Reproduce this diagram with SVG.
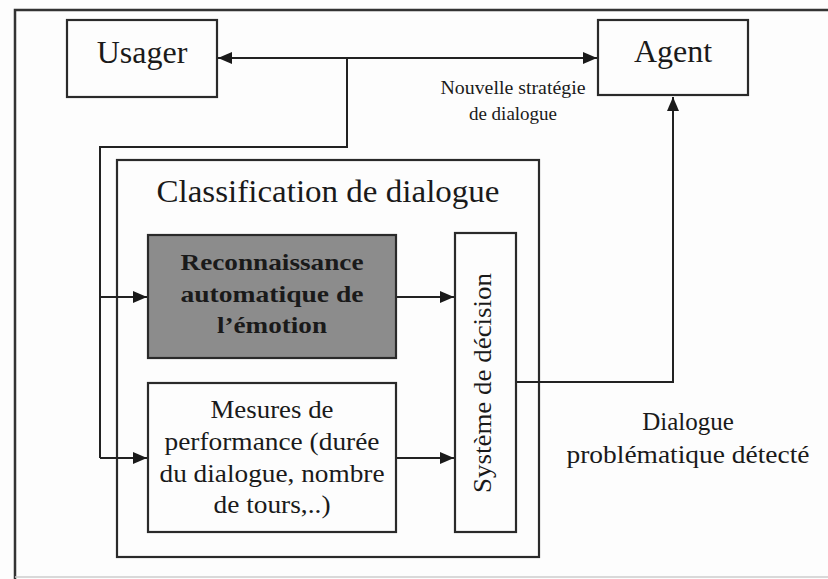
<svg xmlns="http://www.w3.org/2000/svg" width="828" height="579" viewBox="0 0 828 579">
  <defs>
    <style>
      .box { fill: #fdfdfd; stroke: #2a2a2a; stroke-width: 2.2; }
      .grey { fill: #8c8c8c; stroke: #2a2a2a; stroke-width: 2.2; }
      .wire { fill: none; stroke: #222; stroke-width: 2; }
      text { font-family: "Liberation Serif", "Times New Roman", serif; fill: #1a1a1a; text-anchor: middle; }
      .big { font-size: 32px; }
      .mid { font-size: 25px; }
      .bold { font-size: 24px; font-weight: bold; }
      .small { font-size: 19px; }
    </style>
    <marker id="arr" viewBox="0 0 14 12" refX="14" refY="6" markerWidth="14" markerHeight="12" markerUnits="userSpaceOnUse" orient="auto-start-reverse">
      <path d="M0,0 L14,6 L0,12 Z" fill="#1a1a1a"/>
    </marker>
  </defs>

  <rect width="828" height="579" fill="#fdfdfd"/>

  <!-- page frame -->
  <g id="frame">
    <path d="M15,579 L15,10 L828,10" fill="none" stroke="#333" stroke-width="2.5"/>
    <path d="M15,577 L828,577" fill="none" stroke="#ccc" stroke-width="1.5"/>
  </g>

  <g id="usager">
    <rect class="box" x="67" y="20" width="150" height="77"/>
    <text class="big" x="142" y="63">Usager</text>
  </g>

  <g id="agent">
    <rect class="box" x="598" y="20" width="150" height="75"/>
    <text class="big" x="673" y="62">Agent</text>
  </g>

  <g id="strategy-label">
    <text class="small" x="513" y="94" textLength="145" lengthAdjust="spacingAndGlyphs">Nouvelle stratégie</text>
    <text class="small" x="513" y="120">de dialogue</text>
  </g>

  <g id="classification">
    <rect class="box" x="117" y="160" width="422" height="397"/>
    <text class="big" x="328" y="202" textLength="343" lengthAdjust="spacingAndGlyphs">Classification de dialogue</text>
  </g>

  <g id="emotion">
    <rect class="grey" x="148" y="235" width="248" height="123"/>
    <text class="bold" x="272" y="270" textLength="183" lengthAdjust="spacingAndGlyphs">Reconnaissance</text>
    <text class="bold" x="272" y="302" textLength="183" lengthAdjust="spacingAndGlyphs">automatique de</text>
    <text class="bold" x="272" y="333" textLength="110" lengthAdjust="spacingAndGlyphs">l’émotion</text>
  </g>

  <g id="performance">
    <rect class="box" x="148" y="383" width="248" height="149"/>
    <text class="mid" x="272" y="418" textLength="123" lengthAdjust="spacingAndGlyphs">Mesures de</text>
    <text class="mid" x="272" y="450" textLength="215" lengthAdjust="spacingAndGlyphs">performance (durée</text>
    <text class="mid" x="272" y="482" textLength="225" lengthAdjust="spacingAndGlyphs">du dialogue, nombre</text>
    <text class="mid" x="272" y="513" textLength="117" lengthAdjust="spacingAndGlyphs">de tours,..)</text>
  </g>

  <g id="decision">
    <rect class="box" x="455" y="233" width="61" height="299"/>
    <text class="mid" transform="translate(491,383) rotate(-90)" x="0" y="0" textLength="220" lengthAdjust="spacingAndGlyphs">Système de décision</text>
  </g>

  <g id="detected-label">
    <text class="mid" x="688" y="430">Dialogue</text>
    <text class="mid" x="688" y="463" textLength="243" lengthAdjust="spacingAndGlyphs">problématique détecté</text>
  </g>

  <!-- connectors, drawn last so they cross the classification frame -->
  <g id="connectors">
    <path class="wire" d="M218,58 L597,58" marker-start="url(#arr)" marker-end="url(#arr)"/>
    <path class="wire" d="M347,58 L347,147 L100,147 L100,458"/>
    <path class="wire" d="M100,297 L147,297" marker-end="url(#arr)"/>
    <path class="wire" d="M100,458 L147,458" marker-end="url(#arr)"/>
    <path class="wire" d="M397,297 L454,297" marker-end="url(#arr)"/>
    <path class="wire" d="M397,458 L454,458" marker-end="url(#arr)"/>
    <path class="wire" d="M517,382 L673,382 L673,97" marker-end="url(#arr)"/>
  </g>
</svg>
